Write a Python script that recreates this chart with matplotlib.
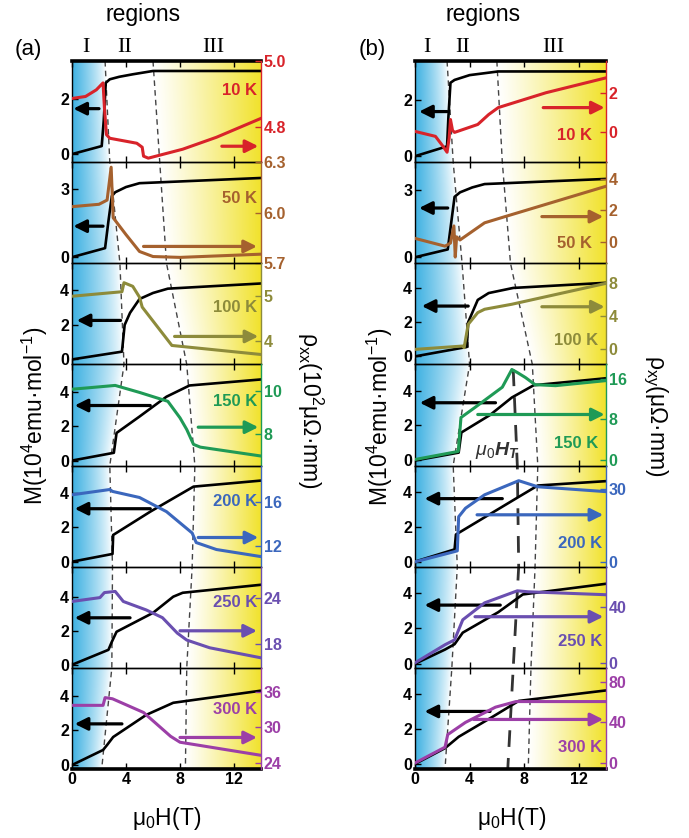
import numpy as np
import matplotlib.pyplot as plt
from matplotlib.colors import to_rgb

plt.rcParams['font.family'] = ['Liberation Sans', 'DejaVu Sans']
plt.rcParams['font.weight'] = 'bold'
plt.rcParams['mathtext.fontset'] = 'custom'
plt.rcParams['mathtext.rm'] = 'Liberation Sans:regular'
plt.rcParams['mathtext.it'] = 'Liberation Sans:italic:regular'
plt.rcParams['mathtext.bf'] = 'Liberation Sans:bold'
plt.rcParams['mathtext.bfit'] = 'Liberation Sans:italic:bold'

temps = ['10 K', '50 K', '100 K', '150 K', '200 K', '250 K', '300 K']
colors = ['#d8232a', '#a5612e', '#8d8b3b', '#1f9a56', '#3b67bd', '#6a4fb0', '#9c3fa7']

# (a) magnetization, 10^4 emu/mol
aM_H = [[0, 2.2, 2.35, 2.5, 2.8, 3.5, 4.5, 6.0, 14],
        [0, 2.45, 2.7, 2.95, 3.2, 4.0, 5.0, 14],
        [0, 3.7, 3.9, 4.3, 5.0, 6.0, 7.1, 14],
        [0, 3.1, 3.3, 5.0, 7.0, 8.7, 14],
        [0, 3.0, 3.05, 5.8, 9.0, 14],
        [0, 2.7, 2.95, 3.3, 6.0, 7.5, 8.2, 14],
        [0, 2.3, 2.6, 3.05, 5.5, 7.5, 14]]
aM = [[0, 0.29, 1.2, 2.57, 2.7, 2.79, 2.88, 3.0, 3.0],
      [0, 0.4, 1.6, 2.7, 2.87, 3.1, 3.27, 3.5],
      [0, 0.45, 2.0, 2.7, 3.5, 3.85, 4.1, 4.4],
      [0, 0.45, 1.6, 2.55, 3.7, 4.35, 4.7],
      [0, 0.45, 1.55, 2.9, 4.35, 4.7],
      [0, 0.88, 1.35, 1.94, 3.05, 4.0, 4.23, 4.7],
      [0, 0.87, 1.16, 1.62, 2.9, 3.6, 4.3]]
# (a) rho_xx, 10^2 uOhm mm
aR_H = [[0, 1.0, 1.8, 2.3, 2.4, 2.55, 2.8, 4.8, 5.2, 5.3, 5.65, 8.2, 10.7, 14],
        [0, 2.0, 2.6, 2.9, 3.05, 4.0, 5.0, 6.0, 8.0, 14],
        [0, 3.7, 3.85, 4.5, 5.0, 5.2, 7.4, 14],
        [0, 3.2, 5.0, 7.1, 8.0, 8.5, 9.0, 9.5, 14],
        [0, 2.8, 3.0, 5.0, 7.0, 8.9, 9.2, 10.7, 14],
        [0, 2.07, 2.4, 3.2, 3.8, 5.5, 6.7, 7.8, 8.5, 10.2, 14],
        [0, 2.3, 2.45, 3.0, 5.3, 7.3, 8.0, 14]]
aR = [[4.887, 4.893, 4.913, 4.934, 4.86, 4.778, 4.767, 4.752, 4.740, 4.713, 4.707, 4.734, 4.770, 4.827],
      [6.036, 6.05, 6.075, 6.27, 5.97, 5.87, 5.77, 5.74, 5.735, 5.754],
      [5.0, 5.1, 5.3, 5.22, 4.98, 4.76, 3.91, 3.71],
      [10.1, 10.28, 9.95, 9.53, 8.75, 8.2, 7.5, 7.37, 6.95],
      [16.6, 17.07, 16.9, 16.36, 15.1, 13.2, 12.35, 11.73, 11.1],
      [23.5, 24.0, 24.65, 24.8, 23.5, 22.4, 21.4, 19.4, 18.5, 17.5, 16.2],
      [33.7, 33.7, 35.0, 34.8, 32.5, 28.5, 27.5, 25.3]]

# (b) magnetization
bM_H = [[0, 2.35, 2.45, 2.6, 2.9, 4.0, 6.1, 14],
        [0, 2.4, 2.9, 3.3, 4.2, 5.1, 14],
        [0, 3.8, 3.9, 4.6, 5.4, 7.2, 14],
        [0, 3.2, 3.4, 5.5, 7.1, 8.7, 14],
        [0, 2.9, 3.0, 7.6, 9.0, 14],
        [0, 2.2, 2.9, 3.5, 6.1, 7.9, 14],
        [0, 2.2, 3.2, 5.7, 7.6, 14]]
bM = [[0, 0.35, 1.4, 2.6, 2.7, 2.87, 3.0, 3.0],
      [0, 0.35, 2.7, 2.9, 3.12, 3.27, 3.5],
      [0, 0.55, 2.0, 3.3, 3.7, 4.0, 4.3],
      [0, 0.45, 1.6, 2.6, 3.6, 4.3, 4.7],
      [0, 0.7, 1.55, 3.7, 4.35, 4.6],
      [0, 0.8, 1.1, 1.75, 2.9, 3.9, 4.5],
      [0, 0.9, 1.55, 2.7, 3.6, 4.2]]
# (b) rho_xy, uOhm mm
bR_H = [[0, 1.5, 2.05, 2.35, 2.5, 2.6, 2.75, 2.9, 4.6, 5.4, 6.1, 9.6, 14],
        [0, 2.2, 2.6, 2.85, 2.95, 3.05, 3.3, 5.1, 6.6, 14],
        [0, 3.5, 3.6, 3.9, 4.6, 5.1, 7.1, 14],
        [0, 3.17, 3.37, 4.4, 6.4, 7.1, 7.5, 8.1, 8.8, 10.3, 14],
        [0, 3.1, 3.2, 3.7, 5.1, 7.6, 9.0, 14],
        [0, 2.2, 2.9, 3.5, 5.1, 7.5, 8.3, 14],
        [0, 2.2, 2.4, 3.7, 5.9, 7.4, 14]]
bR = [[0.05, -0.2, -0.7, -1.0, -0.3, 0.65, 0.1, 0.0, 0.4, 0.9, 1.25, 2.0, 2.75],
      [0.2, -0.3, -0.1, 1.0, -1.0, 0.3, 0.1, 1.2, 1.6, 3.55],
      [0, 0.4, 0.2, 3.0, 4.4, 4.8, 5.4, 7.9],
      [0, 1.6, 8.3, 10.3, 14.3, 17.8, 17.2, 16.2, 14.8, 14.6, 15.6],
      [0, 4.5, 18.5, 22, 27.5, 33.3, 30.8, 28.8],
      [0, 12.9, 16.4, 30.7, 42.8, 51.4, 50.7, 48.6],
      [0, 15.6, 28, 40, 55, 60.5, 60.5]]

# region boundaries, from top of column (row 7) to bottom (row 0)
rows = [7, 6, 5, 4, 3, 2, 1, 0]
a_bound1 = [2.45, 2.8, 3.55, 3.85, 2.8, 3.0, 2.95, 2.2]
a_bound2 = [6.0, 6.5, 7.0, 8.5, 9.1, 8.9, 8.5, 8.4]
b_bound1 = [2.35, 2.8, 3.45, 4.0, 2.8, 3.1, 2.7, 2.2]
b_bound2 = [6.0, 6.4, 7.0, 8.6, 9.0, 8.8, 8.5, 8.3]
ht_rows = [3.95, 3, 2, 1, 0]
ht_H = [7.2, 7.5, 7.6, 7.2, 6.8]

a_Mlim = [(-0.29, 3.36), (-0.27, 4.2), (-0.29, 5.57), (-0.29, 5.57), (-0.29, 5.57), (-0.18, 5.76), (-0.23, 5.62)]
b_Mlim = [(-0.21, 3.37), (-0.27, 4.25), (-0.47, 5.44), (-0.29, 5.49), (-0.29, 5.49), (-0.23, 5.46), (-0.29, 5.49)]
Mticks = [[0, 2], [0, 3], [0, 2, 4], [0, 2, 4], [0, 2, 4], [0, 2, 4], [0, 2, 4]]
a_Rlim = [(4.695, 5.0), (5.7, 6.3), (3.49, 5.73), (6.5, 11.27), (10.2, 19.2), (14.9, 28.0), (23, 40)]
a_Rticks = [[4.8, 5.0], [5.7, 6.0, 6.3], [4, 5], [8, 10], [12, 16], [18, 24], [24, 30, 36]]
b_Rlim = [(-1.5, 3.6), (-1.4, 5.1), (-1.8, 10.3), (-1.2, 18.8), (-2, 39.5), (-3.6, 68.6), (-5.9, 93.7)]
b_Rticks = [[0, 2], [0, 2, 4], [0, 4, 8], [0, 8, 16], [0, 30], [0, 40], [0, 40, 80]]

# arrows: (y, H at left end, H at right end)
a_black = [(1.64, 0.1, 2.0), (1.37, 0.1, 2.3), (2.26, 0.35, 3.6), (3.19, 0.2, 5.8),
           (3.07, 0.2, 5.8), (2.76, 0.2, 4.3), (2.38, 0.2, 3.7)]
a_color = [(4.743, 11.1, 13.8), (5.80, 5.3, 13.7), (4.11, 7.6, 13.8), (8.31, 9.35, 13.8),
           (12.8, 9.35, 13.8), (19.7, 8.0, 13.7), (28.3, 8.0, 13.7)]
b_black = [(1.58, 0.3, 2.35), (2.2, 0.3, 2.4), (2.94, 0.5, 3.9), (3.3, 0.35, 5.9),
           (3.6, 0.7, 6.4), (3.3, 0.7, 6.25), (3.0, 0.7, 5.5)]
b_color = [(1.25, 9.4, 13.9), (1.6, 9.3, 13.8), (5.1, 9.3, 13.9), (8.9, 4.6, 13.9),
           (19.3, 4.55, 13.8), (32.9, 4.4, 13.8), (42.9, 4.3, 13.8)]

# label placement (axes fraction y, H of right edge)
a_lab = [(0.713, 13.7), (0.636, 13.7), (0.567, 13.7), (0.629, 13.7), (0.64, 13.7), (0.642, 13.7), (0.593, 13.7)]
b_lab = [(0.268, 13.0), (0.2, 13.0), (0.241, 13.45), (0.214, 13.45), (0.234, 13.75), (0.256, 13.75), (0.208, 13.75)]

W, Hf = 689, 838
fig = plt.figure(figsize=(W / 100, Hf / 100), dpi=100)
top0, ph = 61, 708 / 7


def background(x0, w, b1, b2):
    bg = fig.add_axes([x0 / W, 1 - 769 / Hf, w / W, 708 / Hf])
    hh = np.linspace(0, 14, 500)
    yy = np.linspace(0, 7, 300)
    r1 = np.interp(yy, rows[::-1], b1[::-1])[:, None]
    r2 = np.interp(yy, rows[::-1], b2[::-1])[:, None]
    HH = np.tile(hh, (len(yy), 1))
    wb = np.clip(1 - HH / r1, 0, 1) ** 0.8
    wy = np.clip((HH - r2) / (14 - r2), 0, 1) ** 1.1
    blue = np.array(to_rgb('#3eb1e2'))
    yel = np.array(to_rgb('#f1e22c'))
    img = (1 - wb - wy)[..., None] * np.ones(3) + wb[..., None] * blue + wy[..., None] * yel
    bg.imshow(img, extent=[0, 14, 0, 7], origin='lower', aspect='auto', interpolation='bilinear')
    bg.plot(b1, rows, color='#444444', lw=1, dashes=(4, 3))
    bg.plot(b2, rows, color='#444444', lw=1, dashes=(4, 3))
    bg.set_xlim(0, 14)
    bg.set_ylim(0, 7)
    bg.axis('off')
    return bg


def column(x0, w, MH, M, RH, R, Mlim, Rlim, Rticks, blk, col, lab, fmt):
    for i in range(7):
        c = colors[i]
        rect = [x0 / W, 1 - (top0 + (i + 1) * ph) / Hf, w / W, ph / Hf]
        ax = fig.add_axes(rect)
        ax.patch.set_visible(False)
        ax.plot(MH[i], M[i], color='black', lw=1.9, zorder=3)
        ax.set_xlim(0, 14)
        ax.set_ylim(*Mlim[i])
        ax.set_yticks(Mticks[i])
        ax.set_xticks([0, 4, 8, 12])
        ax.tick_params(direction='in', length=4, width=1, labelsize=11.5, pad=2, top=True)
        if i < 6:
            ax.tick_params(labelbottom=False)
        ax.spines['right'].set_visible(False)
        for s in ['top', 'bottom', 'left']:
            ax.spines[s].set_linewidth(1)
        if i == 0:
            ax.spines['top'].set_linewidth(2.6)
        if i == 6:
            ax.spines['bottom'].set_linewidth(2.6)
        y, h0, h1 = blk[i]
        ax.annotate('', xy=(h0, y), xytext=(h1, y),
                    arrowprops=dict(arrowstyle='-|>', color='black', lw=2.3, mutation_scale=19, shrinkA=0, shrinkB=0))

        ax2 = ax.twinx()
        ax2.patch.set_visible(False)
        ax2.plot(RH[i], R[i], color=c, lw=2.2, zorder=3)
        ax2.set_ylim(*Rlim[i])
        ax2.set_yticks(Rticks[i])
        ax2.set_yticklabels([fmt(v) for v in Rticks[i]])
        ax2.tick_params(axis='y', direction='in', length=4, width=1, colors=c, labelsize=11.5, pad=2)
        for s in ['top', 'bottom', 'left']:
            ax2.spines[s].set_visible(False)
        ax2.spines['right'].set_color(c)
        ax2.spines['right'].set_linewidth(1)
        y, h0, h1 = col[i]
        ax2.annotate('', xy=(h1, y), xytext=(h0, y),
                     arrowprops=dict(arrowstyle='-|>', color=c, lw=2.3, mutation_scale=19, shrinkA=0, shrinkB=0))
        fy, fx = lab[i]
        ax2.text(fx, fy, temps[i], color=c, fontsize=12, ha='right', va='center',
                 transform=ax2.get_xaxis_transform())
    return ax


def fmt_a(v):
    return f'{v:.1f}' if isinstance(v, float) else str(v)


def fmt_b(v):
    return str(v)


background(72, 189, a_bound1, a_bound2)
column(72, 189, aM_H, aM, aR_H, aR, a_Mlim, a_Rlim, a_Rticks, a_black, a_color, a_lab, fmt_a)
bg = background(415, 191, b_bound1, b_bound2)
bg.plot(ht_H, ht_rows, color='#333333', lw=2.0, dashes=(6, 4))
column(415, 191, bM_H, bM, bR_H, bR, b_Mlim, b_Rlim, b_Rticks, b_black, b_color, b_lab, fmt_b)

# H_T label
fig.text(497 / W, 1 - 450 / Hf, r'$\mu_0\mathbfit{H}_{\mathbfit{T}}$', color='#333333',
         fontsize=14, ha='center', va='center')

# column headers
for xr, xl, xs, panel_lab, xp in [(143, 86, (125, 213), '(a)', 28), (483, 427, (463, 553), '(b)', 372)]:
    fig.text(xr / W, 1 - 15 / Hf, 'regions', fontsize=16.5, fontweight='normal', ha='center', va='center')
    fig.text(xl / W, 1 - 48 / Hf, 'I', family='Liberation Serif', fontweight='normal', fontsize=16, ha='center', va='center')
    fig.text(xs[0] / W, 1 - 48 / Hf, 'II', family='Liberation Serif', fontweight='normal', fontsize=16, ha='center', va='center')
    fig.text(xs[1] / W, 1 - 48 / Hf, 'III', family='Liberation Serif', fontweight='normal', fontsize=16, ha='center', va='center')
    fig.text(xp / W, 1 - 50 / Hf, panel_lab, fontsize=16, fontweight='normal', ha='center', va='center')

# axis titles
mlab = 'M(10$^4$emu·mol$^{-1}$)'
fig.text(35 / W, 1 - 416 / Hf, mlab, rotation=90, fontsize=16.5, fontweight='normal', ha='center', va='center')
fig.text(380 / W, 1 - 417 / Hf, mlab, rotation=90, fontsize=16.5, fontweight='normal', ha='center', va='center')
fig.text(310 / W, 1 - 410 / Hf, 'ρ$_{\\mathrm{xx}}$(10$^2$μΩ·mm)', rotation=-90, fontsize=16.5,
         fontweight='normal', ha='center', va='center')
fig.text(655 / W, 1 - 416 / Hf, 'ρ$_{\\mathrm{xy}}$(μΩ·mm)', rotation=-90, fontsize=16.5,
         fontweight='normal', ha='center', va='center')
fig.text(167 / W, 1 - 818 / Hf, 'μ$_0$H(T)', fontsize=16.5, fontweight='normal', ha='center', va='center')
fig.text(512 / W, 1 - 818 / Hf, 'μ$_0$H(T)', fontsize=16.5, fontweight='normal', ha='center', va='center')

fig.savefig('out.png', dpi=100)
